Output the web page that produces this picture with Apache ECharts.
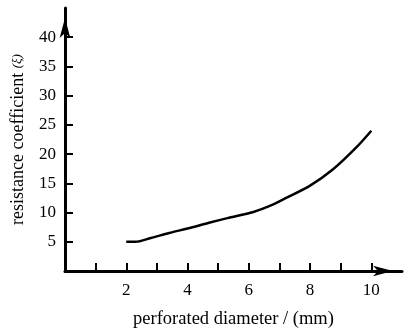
<!DOCTYPE html>
<html>
<head>
<meta charset="utf-8">
<script src="https://cdn.jsdelivr.net/npm/echarts@6/dist/echarts.min.js"></script>
<style>
  html, body { margin: 0; padding: 0; background: #fff; }
  #chart { width: 409px; height: 334px; }
</style>
</head>
<body>
<div id="chart"></div>
<script>
// diameter (mm) vs resistance coefficient
const diameter = [2.0, 2.3, 2.8, 3.4, 4.1, 4.7, 5.3, 6.15, 6.8, 7.2, 8.0, 8.75, 9.5, 10.0]
const resistance = [5.0, 5.0, 5.65, 6.5, 7.4, 8.25, 9.05, 10.1, 11.4, 12.45, 14.6, 17.4, 21.1, 24.0]
const xTicks = [1, 2, 3, 4, 5, 6, 7, 8, 9, 10]
const xLabels = [2, 4, 6, 8, 10]
const yTicks = [5, 10, 15, 20, 25, 30, 35, 40]

const font = 'Liberation Serif'
const chart = echarts.init(document.getElementById('chart'))

chart.setOption({
  animation: false,
  grid: { left: 65, right: 7, top: 8, bottom: 61 },
  xAxis: {
    type: 'value',
    min: 0,
    max: 11,
    interval: 1,
    name: 'perforated diameter / (mm)',
    nameLocation: 'middle',
    nameGap: 39,
    nameTextStyle: { fontFamily: font, fontSize: 18.5, color: '#000' },
    axisLine: {
      onZero: false,
      lineStyle: { color: '#000', width: 3 },
      symbol: ['none', 'arrow'],
      symbolSize: [8, 20],
      symbolOffset: [0, -9]
    },
    axisTick: { inside: true, length: 8, lineStyle: { color: '#000', width: 2 }, customValues: xTicks },
    axisLabel: { margin: 11, fontFamily: font, fontSize: 17, color: '#000', customValues: xLabels },
    splitLine: { show: false }
  },
  yAxis: {
    type: 'value',
    min: 0,
    max: 45,
    interval: 5,
    name: 'resistance coefficient {s|(ξ)}',
    nameLocation: 'middle',
    nameGap: 38,
    nameTextStyle: {
      fontFamily: font, fontSize: 18, color: '#000',
      rich: { s: { fontFamily: font, fontSize: 13, fontStyle: 'italic', color: '#000' } }
    },
    axisLine: {
      onZero: false,
      lineStyle: { color: '#000', width: 3 },
      symbol: ['none', 'arrow'],
      symbolSize: [8, 20],
      symbolOffset: [0, -10]
    },
    axisTick: { inside: true, length: 8, lineStyle: { color: '#000', width: 2 }, customValues: yTicks },
    axisLabel: { margin: 9, fontFamily: font, fontSize: 17, color: '#000', customValues: yTicks },
    splitLine: { show: false }
  },
  series: [{
    type: 'line',
    data: diameter.map((d, i) => [d, resistance[i]]),
    smooth: 0.3,
    symbol: 'none',
    lineStyle: { color: '#000', width: 2.5 }
  }]
})
</script>
</body>
</html>
